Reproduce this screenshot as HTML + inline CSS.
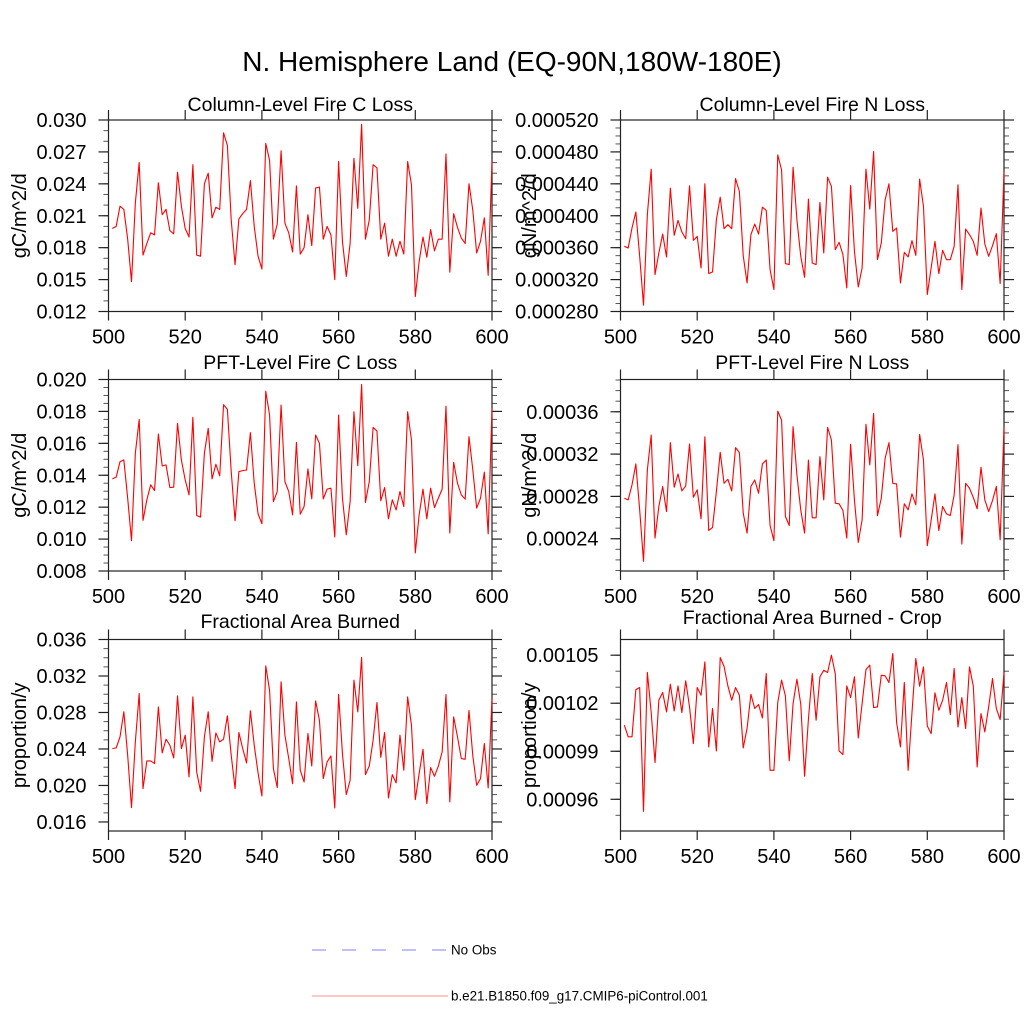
<!DOCTYPE html>
<html><head><meta charset="utf-8">
<style>
html,body{margin:0;padding:0;background:#fff;}
svg{display:block;font-family:"Liberation Sans",Arial,sans-serif;}
</style></head>
<body>
<svg id="fig" width="1024" height="1024" viewBox="0 0 1024 1024" xmlns="http://www.w3.org/2000/svg">
<rect width="1024" height="1024" fill="#fff"/>
<text x="512" y="71" font-size="28" text-anchor="middle">N. Hemisphere Land (EQ-90N,180W-180E)</text>
<g id="panels"></g>
<g>
<line x1="312" y1="950" x2="448" y2="950" stroke="#8080ff" stroke-width="1" stroke-dasharray="14,16"/>
<text x="451" y="954.5" font-size="13.4">No Obs</text>
<line x1="312" y1="996" x2="448" y2="996" stroke="#ff9090" stroke-width="1"/>
<text x="451" y="1000.5" font-size="13.4">b.e21.B1850.f09_g17.CMIP6-piControl.001</text>
</g>
</svg>
<script>
const years = Array.from({length:100},(_,i)=>501+i);
const xTicks = [500,520,540,560,580,600];
const colC = [0.0198,0.0200,0.0219,0.0216,0.0188,0.0148,0.0222,0.0260,0.0173,0.0184,0.0194,0.0192,0.0241,0.0211,0.0216,0.0196,0.0193,0.0251,0.0219,0.0198,0.0190,0.0258,0.0173,0.0172,0.0240,0.0250,0.0208,0.0218,0.0216,0.0288,0.0276,0.0206,0.0164,0.0207,0.0212,0.0216,0.0243,0.0200,0.0172,0.0160,0.0278,0.0262,0.0188,0.0202,0.0271,0.0203,0.0194,0.0176,0.0238,0.0174,0.0180,0.0211,0.0182,0.0236,0.0237,0.0188,0.0200,0.0192,0.0150,0.0261,0.0186,0.0153,0.0184,0.0264,0.0217,0.0296,0.0188,0.0206,0.0258,0.0255,0.0188,0.0203,0.0172,0.0188,0.0172,0.0186,0.0174,0.0261,0.0239,0.0134,0.0167,0.0190,0.0171,0.0197,0.0177,0.0188,0.0188,0.0268,0.0157,0.0212,0.0199,0.0189,0.0184,0.0240,0.0215,0.0175,0.0186,0.0208,0.0154,0.0261];
const colN = [361.7e-6,359.6e-6,384.6e-6,404.6e-6,349.2e-6,287.9e-6,401.3e-6,458.3e-6,326.3e-6,353.3e-6,377.1e-6,348.3e-6,434.6e-6,375.4e-6,394.2e-6,379.6e-6,371.3e-6,437.5e-6,369.2e-6,374.2e-6,334.6e-6,440.0e-6,327.5e-6,329.6e-6,395.0e-6,423.3e-6,383.8e-6,388.8e-6,383.8e-6,446.7e-6,430.4e-6,350.0e-6,315.8e-6,376.3e-6,389.6e-6,377.1e-6,410.8e-6,406.7e-6,332.5e-6,307.5e-6,476.3e-6,457.5e-6,340.0e-6,338.8e-6,460.8e-6,395.0e-6,349.2e-6,322.9e-6,420.8e-6,340.8e-6,338.8e-6,416.7e-6,353.3e-6,448.3e-6,436.7e-6,357.5e-6,366.7e-6,351.3e-6,309.6e-6,437.9e-6,355.4e-6,310.8e-6,334.6e-6,458.3e-6,408.3e-6,480.4e-6,345.0e-6,365.8e-6,420.0e-6,440.0e-6,380.4e-6,384.6e-6,315.8e-6,354.2e-6,348.3e-6,368.8e-6,350.4e-6,445.8e-6,411.7e-6,301.3e-6,334.6e-6,367.9e-6,327.5e-6,356.7e-6,345.0e-6,345.0e-6,361.7e-6,438.8e-6,307.5e-6,383.3e-6,376.3e-6,367.9e-6,350.4e-6,409.6e-6,364.6e-6,349.2e-6,362.5e-6,377.5e-6,315.0e-6,455.4e-6];
const pftC = [13.77e-3,13.88e-3,14.85e-3,14.96e-3,12.56e-3,9.90e-3,15.38e-3,17.50e-3,11.17e-3,12.46e-3,13.40e-3,13.04e-3,16.58e-3,14.58e-3,14.65e-3,13.23e-3,13.25e-3,17.25e-3,14.96e-3,13.71e-3,12.77e-3,17.63e-3,11.48e-3,11.38e-3,15.38e-3,16.94e-3,13.77e-3,14.69e-3,13.96e-3,18.42e-3,18.13e-3,14.23e-3,11.15e-3,14.23e-3,14.29e-3,14.33e-3,16.67e-3,13.50e-3,11.58e-3,10.96e-3,19.27e-3,17.77e-3,12.35e-3,12.98e-3,18.40e-3,13.60e-3,12.98e-3,11.52e-3,16.06e-3,11.56e-3,12.04e-3,14.40e-3,12.52e-3,16.52e-3,16.00e-3,12.52e-3,13.13e-3,13.19e-3,10.13e-3,17.77e-3,12.56e-3,10.27e-3,12.35e-3,17.98e-3,14.60e-3,19.69e-3,12.29e-3,13.60e-3,17.00e-3,16.77e-3,12.40e-3,13.23e-3,11.27e-3,12.46e-3,11.83e-3,12.98e-3,12.04e-3,17.98e-3,16.21e-3,9.13e-3,11.52e-3,13.13e-3,11.27e-3,13.19e-3,11.98e-3,12.56e-3,13.13e-3,18.33e-3,10.38e-3,14.81e-3,13.50e-3,12.77e-3,12.50e-3,16.42e-3,14.33e-3,11.94e-3,12.56e-3,14.19e-3,10.33e-3,18.19e-3];
const pftN = [278.3e-6,276.7e-6,290.9e-6,310.7e-6,267.3e-6,218.6e-6,305.0e-6,338.0e-6,240.6e-6,270.5e-6,289.3e-6,265.7e-6,330.8e-6,288.7e-6,301.2e-6,285.2e-6,289.9e-6,329.5e-6,279.2e-6,286.2e-6,258.8e-6,336.4e-6,247.8e-6,250.7e-6,284.6e-6,321.7e-6,292.4e-6,296.2e-6,285.2e-6,326.1e-6,321.4e-6,264.2e-6,245.3e-6,289.3e-6,295.6e-6,283.0e-6,310.7e-6,314.4e-6,252.5e-6,238.1e-6,360.6e-6,352.1e-6,261.0e-6,252.5e-6,345.9e-6,300.3e-6,267.3e-6,245.3e-6,314.4e-6,259.8e-6,259.8e-6,317.6e-6,276.7e-6,345.2e-6,333.3e-6,273.6e-6,273.0e-6,266.7e-6,240.6e-6,329.2e-6,276.7e-6,236.5e-6,257.9e-6,348.1e-6,309.7e-6,358.4e-6,261.7e-6,278.3e-6,316.0e-6,330.8e-6,292.4e-6,291.8e-6,241.5e-6,273.0e-6,267.3e-6,282.4e-6,272.0e-6,338.6e-6,314.4e-6,233.4e-6,257.3e-6,282.4e-6,247.8e-6,270.5e-6,263.5e-6,262.0e-6,281.4e-6,328.9e-6,234.9e-6,292.4e-6,287.7e-6,278.9e-6,268.3e-6,307.5e-6,276.7e-6,265.7e-6,276.1e-6,289.3e-6,239.0e-6,345.2e-6];
const fab = [24.04e-3,24.12e-3,25.32e-3,28.07e-3,23.31e-3,17.57e-3,24.78e-3,30.08e-3,19.66e-3,22.69e-3,22.69e-3,22.40e-3,28.61e-3,23.57e-3,25.07e-3,24.41e-3,23.02e-3,29.82e-3,24.04e-3,25.51e-3,20.94e-3,29.71e-3,21.48e-3,19.36e-3,25.32e-3,28.07e-3,22.65e-3,25.76e-3,24.78e-3,25.07e-3,27.63e-3,23.31e-3,19.66e-3,25.80e-3,24.04e-3,22.47e-3,28.18e-3,24.41e-3,21.37e-3,18.85e-3,33.11e-3,30.44e-3,21.85e-3,19.77e-3,31.36e-3,25.51e-3,22.95e-3,20.20e-3,29.16e-3,21.67e-3,20.39e-3,25.69e-3,22.14e-3,29.27e-3,27.15e-3,20.75e-3,22.58e-3,23.24e-3,17.54e-3,29.97e-3,23.50e-3,19.00e-3,20.57e-3,31.54e-3,28.07e-3,34.03e-3,21.19e-3,22.14e-3,24.96e-3,29.09e-3,23.09e-3,25.80e-3,18.63e-3,21.19e-3,20.28e-3,25.51e-3,21.67e-3,29.71e-3,26.60e-3,18.45e-3,21.30e-3,23.97e-3,18.01e-3,21.96e-3,21.01e-3,22.11e-3,23.68e-3,29.97e-3,18.19e-3,27.52e-3,25.32e-3,22.95e-3,22.87e-3,28.21e-3,23.24e-3,20.02e-3,20.75e-3,24.59e-3,19.73e-3,29.53e-3];
const fabCrop = [100.63e-5,99.90e-5,99.90e-5,102.85e-5,102.98e-5,95.25e-5,103.92e-5,101.42e-5,98.29e-5,102.19e-5,102.67e-5,101.46e-5,103.19e-5,101.52e-5,103.08e-5,101.42e-5,103.40e-5,101.77e-5,99.48e-5,102.98e-5,102.50e-5,104.58e-5,99.27e-5,101.67e-5,99.02e-5,104.85e-5,104.31e-5,103.08e-5,102.19e-5,102.98e-5,102.50e-5,99.21e-5,100.42e-5,102.56e-5,101.67e-5,101.92e-5,101.08e-5,103.85e-5,97.81e-5,97.81e-5,102.04e-5,103.44e-5,102.46e-5,98.40e-5,101.98e-5,103.50e-5,101.94e-5,97.44e-5,101.00e-5,103.85e-5,100.94e-5,103.65e-5,104.06e-5,103.92e-5,105.00e-5,103.85e-5,99.02e-5,98.79e-5,103.08e-5,102.35e-5,103.65e-5,99.83e-5,101.98e-5,104.10e-5,104.38e-5,101.73e-5,101.77e-5,103.75e-5,103.71e-5,103.29e-5,105.10e-5,100.79e-5,99.27e-5,103.29e-5,97.81e-5,101.40e-5,104.79e-5,103.06e-5,104.27e-5,100.58e-5,100.10e-5,102.65e-5,101.56e-5,102.19e-5,103.29e-5,101.29e-5,104.17e-5,100.52e-5,102.35e-5,100.42e-5,104.27e-5,103.06e-5,98.02e-5,101.35e-5,100.21e-5,101.77e-5,103.54e-5,101.67e-5,100.98e-5,103.90e-5];
const ticksColC = [0.012,0.015,0.018,0.021,0.024,0.027,0.030];
const labelsColC = ["0.012","0.015","0.018","0.021","0.024","0.027","0.030"];
const ticksColN = [0.00028,0.00032,0.00036,0.00040,0.00044,0.00048,0.00052];
const labelsColN = ["0.000280","0.000320","0.000360","0.000400","0.000440","0.000480","0.000520"];
const ticksPftC = [0.008,0.010,0.012,0.014,0.016,0.018,0.020];
const labelsPftC = ["0.008","0.010","0.012","0.014","0.016","0.018","0.020"];
const ticksPftN = [0.00024,0.00028,0.00032,0.00036];
const labelsPftN = ["0.00024","0.00028","0.00032","0.00036"];
const ticksFab = [0.016,0.020,0.024,0.028,0.032,0.036];
const labelsFab = ["0.016","0.020","0.024","0.028","0.032","0.036"];
const ticksCrop = [0.00096,0.00099,0.00102,0.00105];
const labelsCrop = ["0.00096","0.00099","0.00102","0.00105"];

const NS = "http://www.w3.org/2000/svg";
const root = document.getElementById('panels');
function mk(tag, attrs, parent){
  const e = document.createElementNS(NS, tag);
  for (const k in attrs) e.setAttribute(k, attrs[k]);
  parent.appendChild(e);
  return e;
}
const FS = 20;
const panels = [
 {key:'col-c', vals:colC, ticks:ticksColC, labels:labelsColC, x0:108.5, y0:120, ymin:0.012, ymax:0.030, minor:0.001, title:'Column-Level Fire C Loss', ty:111, yt:'gC/m^2/d', ytx:19},
 {key:'col-n', vals:colN, ticks:ticksColN, labels:labelsColN, x0:620.5, y0:120, ymin:0.00028, ymax:0.00052, minor:0.00001, title:'Column-Level Fire N Loss', ty:111, yt:'gN/m^2/d', ytx:529},
 {key:'pft-c', vals:pftC, ticks:ticksPftC, labels:labelsPftC, x0:108.5, y0:379.5, ymin:0.008, ymax:0.020, minor:0.0005, title:'PFT-Level Fire C Loss', ty:369, yt:'gC/m^2/d', ytx:19},
 {key:'pft-n', vals:pftN, ticks:ticksPftN, labels:labelsPftN, x0:620.5, y0:379.5, ymin:0.0002095, ymax:0.0003905, minor:0.00001, title:'PFT-Level Fire N Loss', ty:369, yt:'gN/m^2/d', ytx:529},
 {key:'fab', vals:fab, ticks:ticksFab, labels:labelsFab, x0:108.5, y0:639.5, ymin:0.01501, ymax:0.036, minor:0.001, title:'Fractional Area Burned', ty:628, yt:'proportion/y', ytx:19},
 {key:'fab-crop', vals:fabCrop, ticks:ticksCrop, labels:labelsCrop, x0:620.5, y0:639.5, ymin:0.0009402, ymax:0.0010598, minor:0.00001, title:'Fractional Area Burned - Crop', ty:624, yt:'proportion/y', ytx:529}
];
const W = 383.5, H = 191.5;
panels.forEach(p=>{
  const g = mk('g',{},root);
  
  
  const xs = v => p.x0 + (v-500)/100*W;
  const ys = v => p.y0 + H - (v-p.ymin)/(p.ymax-p.ymin)*H;
  const t = mk('text',{x:p.x0+W/2, y:p.ty, 'font-size':19.5, 'text-anchor':'middle'},g);
  t.textContent = p.title;
  
  
  const start = Math.ceil(p.ymin/p.minor - 1e-6);
  for (let k=start; k*p.minor <= p.ymax+1e-12; k++){
    const y = ys(k*p.minor);
    mk('line',{x1:p.x0-5,y1:y,x2:p.x0,y2:y,stroke:'#555','stroke-width':1},g);
    mk('line',{x1:p.x0+W,y1:y,x2:p.x0+W+5,y2:y,stroke:'#555','stroke-width':1},g);
  }
  p.ticks.forEach((v,i)=>{
    const y = ys(v);
    mk('line',{x1:p.x0-10,y1:y,x2:p.x0,y2:y,stroke:'#222','stroke-width':1.2},g);
    mk('line',{x1:p.x0+W,y1:y,x2:p.x0+W+10,y2:y,stroke:'#222','stroke-width':1.2},g);
    const lb = mk('text',{x:p.x0-22, y:y+7, 'font-size':FS, 'text-anchor':'end'},g);
    lb.textContent = p.labels[i];
    
    
  });
  xTicks.forEach(v=>{
    const x = xs(v);
    mk('line',{x1:x,y1:p.y0-10,x2:x,y2:p.y0,stroke:'#222','stroke-width':1.2},g);
    mk('line',{x1:x,y1:p.y0+H,x2:x,y2:p.y0+H+9,stroke:'#222','stroke-width':1.2},g);
    const lb = mk('text',{x:x, y:p.y0+H+32, 'font-size':FS, 'text-anchor':'middle'},g);
    lb.textContent = String(v);
    
    
  });
  const fr = mk('rect',{x:p.x0,y:p.y0,width:W,height:H,fill:'none',stroke:'#222','stroke-width':1.2},g);
  
  
  const cy = p.y0 + H/2;
  const yt = mk('text',{x:p.ytx, y:cy, 'font-size':FS, 'text-anchor':'middle', transform:`rotate(-90 ${p.ytx} ${cy})`, dy:'0.35em'},g);
  yt.textContent = p.yt;
  
  
  const pts = p.vals.map((v,i)=>xs(years[i]).toFixed(2)+','+ys(v).toFixed(2)).join(' ');
  const pl = mk('polyline',{points:pts, fill:'none', stroke:'#ff0000', 'stroke-width':1.1, 'stroke-linejoin':'round'},g);
  
  
});
</script>
</body></html>
